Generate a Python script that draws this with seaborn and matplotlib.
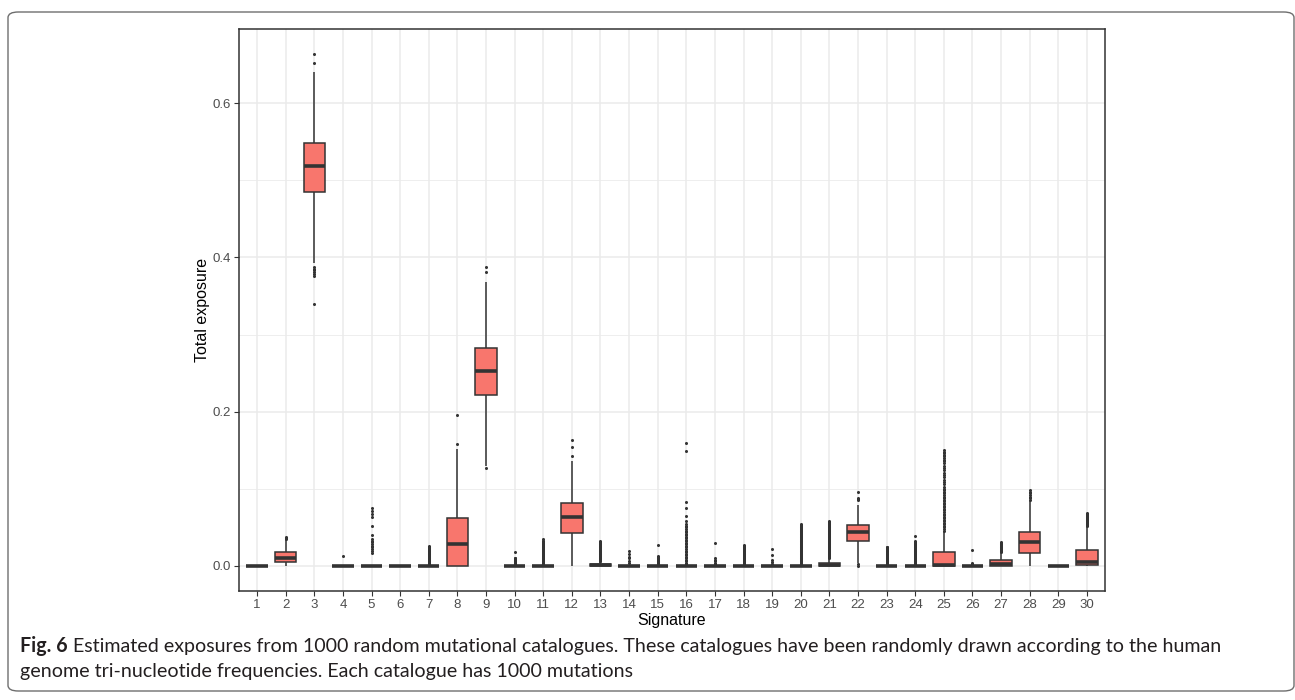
import numpy as np
import pandas as pd
import matplotlib
matplotlib.use("Agg")
import matplotlib.pyplot as plt
import seaborn as sns
from matplotlib.patches import FancyBboxPatch

plt.rcParams["font.family"] = ["Liberation Sans", "DejaVu Sans"]

# ---------------- data ----------------
signatures = [str(i) for i in range(1, 31)]

# five-number summaries per signature: [lower whisker, Q1, median, Q3, upper whisker]
box_stats = {
    "1": [0, 0, 0, 0, 0],
    "2": [0.0005, 0.0048, 0.010, 0.0178, 0.0345],
    "3": [0.393, 0.4848, 0.5185, 0.548, 0.640],
    "4": [0, 0, 0, 0, 0],
    "5": [0, 0, 0, 0, 0],
    "6": [0, 0, 0, 0, 0],
    "7": [0, 0, 0, 0, 0],
    "8": [0, 0, 0.028, 0.0626, 0.1517],
    "9": [0.1295, 0.2216, 0.2532, 0.283, 0.3677],
    "10": [0, 0, 0, 0, 0],
    "11": [0, 0, 0, 0, 0],
    "12": [0, 0.0432, 0.0635, 0.082, 0.136],
    "13": [0, 0, 0.001, 0.002, 0.005],
    "14": [0, 0, 0, 0, 0],
    "15": [0, 0, 0, 0, 0],
    "16": [0, 0, 0, 0, 0],
    "17": [0, 0, 0, 0, 0],
    "18": [0, 0, 0, 0, 0],
    "19": [0, 0, 0, 0, 0],
    "20": [0, 0, 0, 0, 0],
    "21": [0, 0, 0.0015, 0.0043, 0.010],
    "22": [0.004, 0.0328, 0.0437, 0.0527, 0.079],
    "23": [0, 0, 0, 0, 0],
    "24": [0, 0, 0, 0, 0],
    "25": [0, 0, 0.001, 0.018, 0.045],
    "26": [0, 0, 0, 0, 0],
    "27": [0, 0, 0.003, 0.0074, 0.017],
    "28": [0, 0.0173, 0.031, 0.0445, 0.0845],
    "29": [0, 0, 0, 0, 0],
    "30": [0, 0.001, 0.0056, 0.0207, 0.051],
}

outliers = {
    "2": [0.0355, 0.036, 0.0365, 0.037],
    "3": [0.652, 0.6636, 0.388, 0.385, 0.383, 0.381, 0.378, 0.376, 0.3396],
    "4": [0.013],
    "5": [0.0756, 0.0713, 0.067, 0.063, 0.0514, 0.040, 0.0346, 0.0325, 0.0307,
          0.0285, 0.0263, 0.024, 0.0216, 0.019, 0.0164],
    "7": [0.026, 0.025, 0.024, 0.023, 0.022, 0.021, 0.020, 0.019, 0.018, 0.017,
          0.016, 0.015, 0.014, 0.013, 0.012, 0.011, 0.010, 0.009, 0.008, 0.007,
          0.006, 0.005, 0.004, 0.003],
    "8": [0.1577, 0.1957],
    "9": [0.3807, 0.388, 0.127],
    "10": [0.0177, 0.011, 0.010, 0.009, 0.008, 0.007, 0.006, 0.005, 0.004, 0.003],
    "11": [0.0346, 0.033, 0.032, 0.031, 0.030, 0.029, 0.028, 0.027, 0.026, 0.025,
           0.024, 0.023, 0.022, 0.021, 0.020, 0.019, 0.018, 0.017, 0.016, 0.015,
           0.014, 0.013, 0.012, 0.011, 0.010, 0.009, 0.008, 0.007, 0.006, 0.005,
           0.004, 0.003],
    "12": [0.142, 0.1538, 0.1633],
    "13": [0.0324, 0.031, 0.030, 0.029, 0.028, 0.027, 0.026, 0.025, 0.024, 0.023,
           0.022, 0.021, 0.020, 0.019, 0.018, 0.017, 0.016, 0.015, 0.014, 0.013,
           0.012, 0.011, 0.010, 0.009, 0.008, 0.007, 0.006],
    "14": [0.019, 0.0155, 0.012, 0.010, 0.007, 0.004],
    "15": [0.0268, 0.0134, 0.012, 0.011, 0.010, 0.009, 0.008, 0.007, 0.006, 0.005,
           0.004, 0.003],
    "16": [0.160, 0.149, 0.083, 0.0756, 0.0648, 0.058, 0.055, 0.052, 0.050, 0.048,
           0.046, 0.044, 0.042, 0.040, 0.038, 0.036, 0.034, 0.032, 0.030, 0.028,
           0.026, 0.024, 0.022, 0.020, 0.018, 0.016, 0.014, 0.012, 0.010, 0.008,
           0.006, 0.004, 0.003],
    "17": [0.0298, 0.0108, 0.008, 0.006, 0.004, 0.003],
    "18": [0.027, 0.026, 0.025, 0.024, 0.023, 0.022, 0.021, 0.020, 0.019, 0.018,
           0.017, 0.016, 0.015, 0.014, 0.013, 0.012, 0.011, 0.010, 0.009, 0.008,
           0.007, 0.006, 0.005, 0.004, 0.003],
    "19": [0.0225, 0.0138, 0.0082, 0.005, 0.003],
    "20": [0.054, 0.053, 0.052, 0.051, 0.050, 0.049, 0.048, 0.047, 0.046, 0.045,
           0.044, 0.043, 0.042, 0.041, 0.040, 0.039, 0.038, 0.037, 0.036, 0.035,
           0.034, 0.033, 0.032, 0.031, 0.030, 0.029, 0.028, 0.027, 0.026, 0.025,
           0.024, 0.023, 0.022, 0.021, 0.020, 0.019, 0.018, 0.017, 0.016, 0.015,
           0.014, 0.013, 0.012, 0.011, 0.010, 0.009, 0.008, 0.007, 0.006, 0.005,
           0.004, 0.003],
    "21": [0.058, 0.057, 0.056, 0.055, 0.054, 0.053, 0.052, 0.051, 0.050, 0.049,
           0.048, 0.047, 0.046, 0.045, 0.044, 0.043, 0.042, 0.041, 0.040, 0.039,
           0.038, 0.037, 0.036, 0.035, 0.034, 0.033, 0.032, 0.031, 0.030, 0.029,
           0.028, 0.027, 0.026, 0.025, 0.024, 0.023, 0.022, 0.021, 0.020, 0.019,
           0.018, 0.017, 0.016, 0.015, 0.014, 0.013, 0.012, 0.011],
    "22": [0.0855, 0.0866, 0.0877, 0.0955, 0.002, 0.0005],
    "23": [0.025, 0.024, 0.023, 0.022, 0.021, 0.020, 0.019, 0.018, 0.017, 0.016,
           0.015, 0.014, 0.013, 0.012, 0.011, 0.010, 0.009, 0.008, 0.007, 0.006,
           0.005, 0.004, 0.003],
    "24": [0.0385, 0.032, 0.031, 0.030, 0.029, 0.028, 0.027, 0.026, 0.025, 0.024,
           0.023, 0.022, 0.021, 0.020, 0.019, 0.018, 0.017, 0.016, 0.015, 0.014,
           0.013, 0.012, 0.011, 0.010, 0.009, 0.008, 0.007, 0.006, 0.005, 0.004,
           0.003],
    "25": [0.150, 0.148, 0.146, 0.144, 0.142, 0.140, 0.138, 0.136, 0.133, 0.130,
           0.127, 0.124, 0.121, 0.118, 0.115, 0.112, 0.109, 0.106, 0.103, 0.100,
           0.098, 0.096, 0.094, 0.092, 0.090, 0.088, 0.086, 0.084, 0.082, 0.080,
           0.078, 0.076, 0.074, 0.072, 0.070, 0.068, 0.066, 0.064, 0.062, 0.060,
           0.058, 0.056, 0.054, 0.052, 0.050, 0.048, 0.046],
    "26": [0.0203, 0.004, 0.002],
    "27": [0.0307, 0.030, 0.029, 0.028, 0.027, 0.026, 0.025, 0.024, 0.023, 0.022,
           0.021, 0.020, 0.019, 0.018],
    "28": [0.086, 0.088, 0.090, 0.092, 0.094, 0.096, 0.098],
    "30": [0.069, 0.068, 0.067, 0.066, 0.065, 0.064, 0.063, 0.062, 0.061, 0.060,
           0.059, 0.058, 0.057, 0.056, 0.055, 0.054, 0.053, 0.052],
}

y_ticks = [0.0, 0.2, 0.4, 0.6]
y_tick_labels = ["0.0", "0.2", "0.4", "0.6"]
y_minor = [0.1, 0.3, 0.5]
x_label = "Signature"
y_label = "Total exposure"
caption_bold = "Fig. 6"
caption_line1 = (" Estimated exposures from 1000 random mutational catalogues. These catalogues "
                 "have been randomly drawn according to the human")
caption_line2 = "genome tri-nucleotide frequencies. Each catalogue has 1000 mutations"

# ---------------- build tables ----------------
box_df = pd.DataFrame([(s, v) for s in signatures for v in box_stats[s]],
                      columns=["Signature", "Exposure"])
out_df = pd.DataFrame([(s, v) for s in signatures for v in outliers.get(s, [])],
                      columns=["Signature", "Exposure"])

# ---------------- figure ----------------
W, H = 1295, 700
fig = plt.figure(figsize=(W / 100, H / 100), dpi=100)
fig.patch.set_facecolor("white")

# outer rounded frame
frame = FancyBboxPatch((8 / W, 9 / H), (1294 - 8) / W, (688 - 9) / H,
                       boxstyle="round,pad=0,rounding_size=0.008",
                       transform=fig.transFigure, fill=False,
                       edgecolor="#6e6e6e", linewidth=1.0)
fig.patches.append(frame)

left, right, top, bottom = 239, 1105, 29, 591
ax = fig.add_axes([left / W, 1 - bottom / H, (right - left) / W, (bottom - top) / H])

fill_col = "#F8766D"
line_col = "#333333"

sns.boxplot(data=box_df, x="Signature", y="Exposure", order=signatures,
            color=fill_col, saturation=1, linecolor=line_col, linewidth=1.1,
            width=0.75, whis=(0, 100), showfliers=False, showcaps=False,
            medianprops=dict(linewidth=2.6, color=line_col),
            ax=ax, zorder=3)

sns.stripplot(data=out_df, x="Signature", y="Exposure", order=signatures,
              jitter=False, size=2.2, color=line_col, linewidth=0,
              ax=ax, zorder=4)

ax.set_xlim(-0.63, 29.63)
ax.set_ylim(-0.0324, 0.6959)

ax.set_yticks(y_ticks)
ax.set_yticklabels(y_tick_labels)
ax.set_yticks(y_minor, minor=True)
ax.tick_params(axis="y", which="minor", length=0)
ax.tick_params(axis="both", which="major", length=3.5, width=0.8, color=line_col,
               labelcolor="#4D4D4D", labelsize=9.5, pad=2)

ax.set_axisbelow(True)
ax.grid(which="major", axis="both", color="#EBEBEB", linewidth=1.1)
ax.grid(which="minor", axis="y", color="#EBEBEB", linewidth=0.6)
for sp in ax.spines.values():
    sp.set_visible(True)
    sp.set_color(line_col)
    sp.set_linewidth(1.1)
ax.set_facecolor("white")

ax.set_xlabel(x_label, fontsize=11.5, color="black", labelpad=2)
ax.set_ylabel(y_label, fontsize=11.5, color="black", labelpad=2)

# ---------------- caption ----------------
cap_font = "Lato"
renderer = fig.canvas.get_renderer()
target_right = 1225
x0 = 20
size = 14
for _ in range(3):
    tb = fig.text(x0 / W, 1 - 652 / H, caption_bold, fontsize=size, fontweight="bold",
                  family=cap_font, va="baseline", ha="left")
    bb = tb.get_window_extent(renderer)
    t1 = fig.text(bb.x1 / W, 1 - 652 / H, caption_line1, fontsize=size,
                  family=cap_font, va="baseline", ha="left")
    b1 = t1.get_window_extent(renderer)
    width = b1.x1 - x0
    tb.remove(); t1.remove()
    size = size * (target_right - x0) / width

tb = fig.text(x0 / W, 1 - 652 / H, caption_bold, fontsize=size, fontweight="bold",
              family=cap_font, va="baseline", ha="left", color="#231f20")
bb = tb.get_window_extent(renderer)
fig.text(bb.x1 / W, 1 - 652 / H, caption_line1, fontsize=size,
         family=cap_font, va="baseline", ha="left", color="#231f20")
fig.text(x0 / W, 1 - 677 / H, caption_line2, fontsize=size,
         family=cap_font, va="baseline", ha="left", color="#231f20")

fig.savefig("out.png", dpi=100, facecolor="white")
